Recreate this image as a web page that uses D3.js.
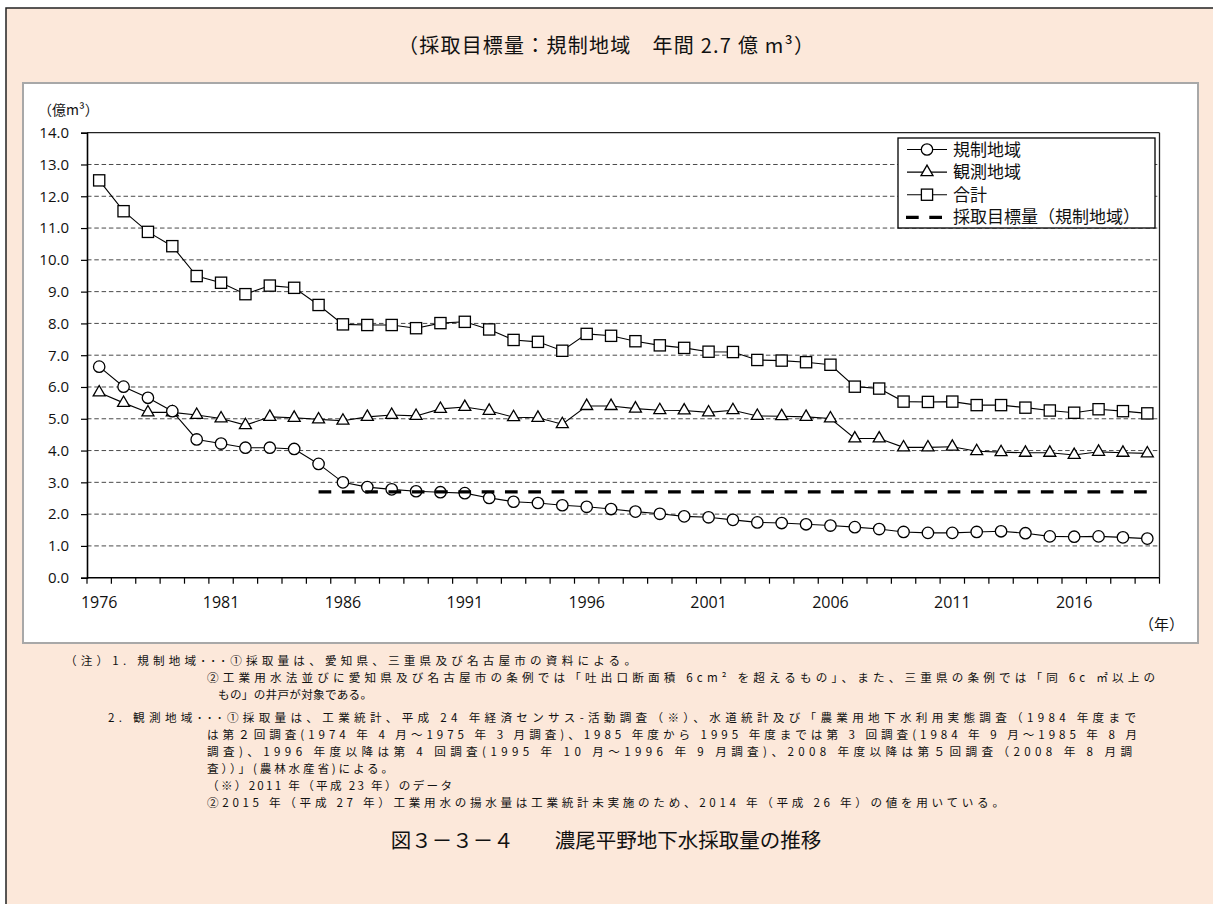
<!DOCTYPE html>
<html><head><meta charset="utf-8">
<script src="https://cdn.jsdelivr.net/npm/d3@7"></script>
<style>body{margin:0;background:#fff}svg{display:block}</style>
</head><body><svg id="c" width="1213" height="904"></svg>
<script>
// ---- data ----
const years = [1976,1977,1978,1979,1980,1981,1982,1983,1984,1985,1986,1987,1988,1989,1990,1991,1992,1993,1994,1995,1996,1997,1998,1999,2000,2001,2002,2003,2004,2005,2006,2007,2008,2009,2010,2011,2012,2013,2014,2015,2016,2017,2018,2019];
const regulated = [6.64,6.01,5.66,5.24,4.35,4.22,4.09,4.09,4.05,3.58,3.00,2.85,2.78,2.72,2.69,2.66,2.51,2.39,2.35,2.28,2.23,2.16,2.08,2.01,1.93,1.90,1.82,1.74,1.72,1.68,1.64,1.59,1.53,1.44,1.41,1.41,1.44,1.46,1.40,1.30,1.29,1.30,1.27,1.23];
const observed = [5.83,5.50,5.20,5.20,5.12,5.01,4.80,5.06,5.03,4.98,4.94,5.06,5.12,5.09,5.31,5.37,5.25,5.05,5.03,4.83,5.40,5.40,5.32,5.27,5.26,5.20,5.27,5.09,5.08,5.06,5.01,4.38,4.38,4.10,4.10,4.12,3.98,3.95,3.93,3.93,3.86,3.96,3.93,3.91];
const total = [12.50,11.53,10.88,10.43,9.49,9.28,8.92,9.19,9.12,8.58,7.97,7.95,7.95,7.85,8.01,8.05,7.81,7.48,7.42,7.14,7.67,7.61,7.44,7.31,7.23,7.11,7.10,6.85,6.83,6.78,6.70,6.01,5.95,5.54,5.53,5.54,5.43,5.43,5.35,5.26,5.19,5.30,5.24,5.17];
const targetValue = 2.7;
const targetFrom = 1985;
const yTickValues = [0,1,2,3,4,5,6,7,8,9,10,11,12,13,14];
const xLabelYears = [1976,1981,1986,1991,1996,2001,2006,2011,2016];
const legendLabels = ["規制地域","観測地域","合計","採取目標量（規制地域）"];
const titleText = "（採取目標量：規制地域　年間 2.7 億 m³）";
const yUnitText = "（億m³）";
const xUnitText = "（年）";
const captionText = "図３－３－４　　濃尾平野地下水採取量の推移";
const noteLines = [
  {t:"（注）1. 規制地域･･･①採取量は、愛知県、三重県及び名古屋市の資料による。", x:65, x2:636, y:665},
  {t:"②工業用水法並びに愛知県及び名古屋市の条例では「吐出口断面積 6cm² を超えるもの」、また、三重県の条例では「同 6c ㎡以上の", x:207, x2:1155, y:682},
  {t:"もの」の井戸が対象である。", x:218, x2:372, y:699},
  {t:"2. 観測地域･･･①採取量は、工業統計、平成 24 年経済センサス-活動調査（※）、水道統計及び「農業用地下水利用実態調査（1984 年度まで", x:108, x2:1136, y:722},
  {t:"は第２回調査(1974 年 4 月～1975 年 3 月調査)、1985 年度から 1995 年度までは第 3 回調査(1984 年 9 月～1985 年 8 月", x:207, x2:1137, y:739},
  {t:"調査)、1996 年度以降は第 4 回調査(1995 年 10 月～1996 年 9 月調査)、2008 年度以降は第５回調査（2008 年 8 月調", x:207, x2:1132, y:756},
  {t:"査））」(農林水産省)による。", x:207, x2:393, y:773},
  {t:"（※）2011 年（平成 23 年）のデータ", x:207, x2:452, y:790},
  {t:"②2015 年（平成 27 年）工業用水の揚水量は工業統計未実施のため、2014 年（平成 26 年）の値を用いている。", x:207, x2:1004, y:807}
];

(function(){
const svg = d3.select("#c");
const JP = "'Noto Sans CJK JP','Noto Sans',sans-serif";
const NUM = "'Open Sans','Noto Sans',sans-serif";

svg.append("rect").attr("x",6).attr("y",8).attr("width",1213).attr("height",904)
  .attr("fill","#fce8da").attr("stroke","#222").attr("stroke-width",1.5);
svg.append("rect").attr("x",23).attr("y",83).attr("width",1175).attr("height",560)
  .attr("fill","#fff").attr("stroke","#a8a8a8").attr("stroke-width",2);

svg.append("text").attr("x",606).attr("y",53).attr("text-anchor","middle")
  .attr("font-family",JP).attr("font-size",20).attr("fill","#111")
  .attr("textLength",416).attr("lengthAdjust","spacing").text(titleText);

const pL=87, pR=1159.5, pT=132.7, pB=577.7;
const x = d3.scaleBand().domain(years).range([pL,pR]).paddingInner(0).paddingOuter(0);
const cx = d => x(d) + x.bandwidth()/2;
const y = d3.scaleLinear().domain([0,14]).range([pB,pT]);

const g = svg.append("g");
g.selectAll("line.grid").data(yTickValues.filter(v=>v>0 && v<14)).join("line")
  .attr("x1",pL).attr("x2",pR).attr("y1",d=>y(d)).attr("y2",d=>y(d))
  .attr("stroke","#4a4a4a").attr("stroke-width",1).attr("stroke-dasharray","4.5,2.8");
g.append("line").attr("x1",pL).attr("x2",pR).attr("y1",y(14)).attr("y2",y(14)).attr("stroke","#222").attr("stroke-width",1.3);
g.append("line").attr("x1",pR).attr("x2",pR).attr("y1",y(14)).attr("y2",pB).attr("stroke","#222").attr("stroke-width",1.3);

const ya = svg.append("g").attr("transform",`translate(${pL},0)`)
  .call(d3.axisLeft(y).tickValues(yTickValues).tickFormat(d3.format(".1f")).tickSize(6).tickPadding(12));
ya.select(".domain").attr("stroke","#000").attr("stroke-width",1.6);
ya.selectAll(".tick line").attr("stroke","#000").attr("stroke-width",1.2);
ya.selectAll("text").attr("font-family",NUM).attr("font-size",15).attr("fill","#111");

const xa = svg.append("g");
xa.append("line").attr("x1",pL).attr("x2",pR).attr("y1",pB).attr("y2",pB).attr("stroke","#000").attr("stroke-width",1.6);
xa.selectAll("line.tk").data(years.concat(["end"])).join("line")
  .attr("x1",d=>d==="end"?pR:x(d)).attr("x2",d=>d==="end"?pR:x(d))
  .attr("y1",pB).attr("y2",pB+6).attr("stroke","#000").attr("stroke-width",1.2);
const xl = svg.append("g").attr("transform",`translate(0,${pB})`)
  .call(d3.axisBottom(x).tickValues(xLabelYears).tickSize(0).tickPadding(19));
xl.select(".domain").remove();
xl.selectAll("text").attr("font-family",NUM).attr("font-size",16).attr("fill","#111");

svg.append("text").attr("x",38).attr("y",115).attr("font-family",JP).attr("font-size",14).attr("fill","#111").text(yUnitText);
svg.append("text").attr("x",1184).attr("y",630).attr("text-anchor","end").attr("font-family",JP).attr("font-size",15).attr("fill","#111").text(xUnitText);

const line = d3.line().x((d,i)=>cx(years[i])).y(d=>y(d));
function drawMarker(m, px, py, shape){
  if(shape==="circle") m.append("circle").attr("cx",px).attr("cy",py).attr("r",5.7).attr("fill","#fff").attr("stroke","#000").attr("stroke-width",1.3);
  else if(shape==="square") m.append("rect").attr("x",px-5.6).attr("y",py-5.6).attr("width",11.2).attr("height",11.2).attr("fill","#fff").attr("stroke","#000").attr("stroke-width",1.3);
  else { const s=12, h=s*Math.sqrt(3)/2;
    m.append("path").attr("d",`M${px},${py-h*2/3}L${px+s/2},${py+h/3}L${px-s/2},${py+h/3}Z`).attr("fill","#fff").attr("stroke","#000").attr("stroke-width",1.3); }
}
function drawSeries(vals, shape){
  svg.append("path").attr("d",line(vals)).attr("fill","none").attr("stroke","#000").attr("stroke-width",1.1);
  const m = svg.append("g");
  vals.forEach((v,i)=>drawMarker(m, cx(years[i]), y(v), shape));
}
drawSeries(total,"square");
drawSeries(observed,"triangle");
drawSeries(regulated,"circle");

const tYears = years.filter(d=>d>=targetFrom);
svg.append("path").attr("d",d3.line().x(d=>cx(d)).y(()=>y(targetValue))(tYears))
  .attr("fill","none").attr("stroke","#000").attr("stroke-width",3.2).attr("stroke-dasharray","12.7,10.6");

const lg = svg.append("g");
lg.append("rect").attr("x",898).attr("y",138).attr("width",257).attr("height",90).attr("fill","#fff").attr("stroke","#000").attr("stroke-width",1.3);
const shapes=["circle","triangle","square","dash"];
legendLabels.forEach((lab,i)=>{
  const ly = 149.5 + i*22.6;
  if(shapes[i]==="dash"){
    lg.append("line").attr("x1",906).attr("x2",944).attr("y1",ly).attr("y2",ly).attr("stroke","#000").attr("stroke-width",3.2).attr("stroke-dasharray","12.7,10.6");
  } else {
    lg.append("line").attr("x1",907).attr("x2",947).attr("y1",ly).attr("y2",ly).attr("stroke","#000").attr("stroke-width",1.1);
    drawMarker(lg,927,ly,shapes[i]);
  }
  lg.append("text").attr("x",953).attr("y",ly+6).attr("font-family",JP).attr("font-size",17).attr("fill","#111").text(lab);
});

svg.append("g").selectAll("text").data(noteLines).join("text")
  .attr("x",d=>d.x).attr("y",d=>d.y).attr("font-family",JP).attr("font-size",11.6).attr("fill","#111")
  .attr("textLength",d=>d.x2-d.x).attr("lengthAdjust","spacing").text(d=>d.t);

svg.append("text").attr("x",606).attr("y",848).attr("text-anchor","middle")
  .attr("font-family",JP).attr("font-size",20.5).attr("fill","#111").text(captionText);
})();
</script></body></html>
